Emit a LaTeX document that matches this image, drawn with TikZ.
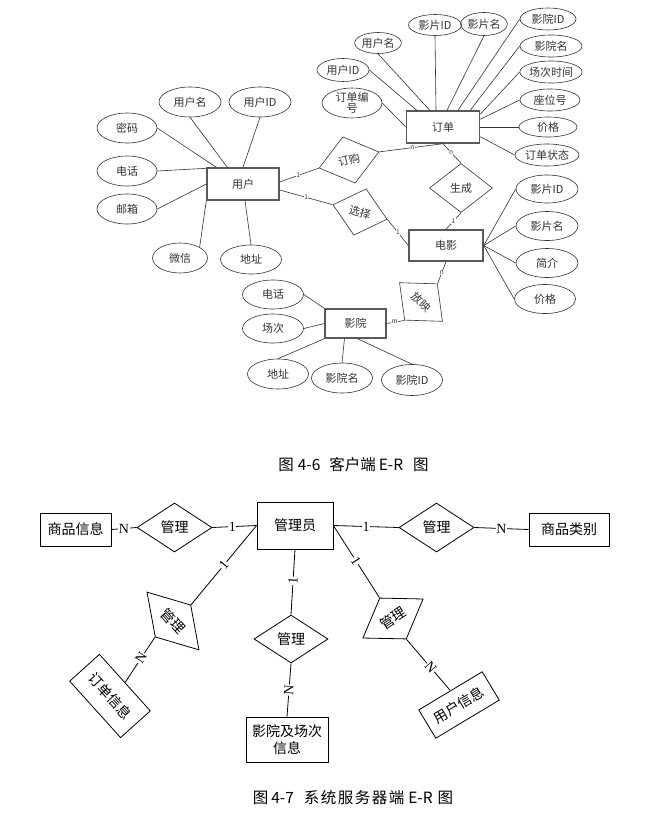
\documentclass[tikz,border=0pt]{standalone}
\usepackage{fontspec}
\setmainfont{Noto Sans CJK SC}
\newfontfamily\lserif{Liberation Serif}
\usetikzlibrary{shapes.geometric}
\begin{document}
\begin{tikzpicture}[x=1pt,y=-1pt,
  sz/.style 2 args={minimum width=#1pt, minimum height=#2pt},
  attr/.style={ellipse, draw=black!80, line width=0.6pt, inner sep=0pt, font=\fontsize{11}{11}\selectfont, text=black!80, align=center},
  ent/.style={rectangle, draw=black!65, line width=1.4pt, inner sep=0pt, font=\fontsize{11}{12}\selectfont, text=black!80},
  rel/.style={diamond, draw=black!80, line width=0.6pt, inner sep=0pt, font=\fontsize{11}{12}\selectfont, text=black!80},
  ln/.style={draw=black!80, line width=0.6pt},
  lbl/.style={font=\fontsize{6.5}{7}\selectfont, inner sep=0.3pt, fill=white, text=black!80},
  bent/.style={rectangle, draw, line width=0.8pt, inner sep=0pt, font=\fontsize{14}{17}\selectfont, align=center},
  brel/.style={diamond, draw, line width=0.8pt, inner sep=0pt, font=\fontsize{14}{17}\selectfont},
  bln/.style={draw, line width=0.8pt},
  blbl/.style={font=\lserif\fontsize{14}{14}\selectfont, inner sep=0.6pt, fill=white},
  figcap/.style={font=\fontsize{15.5}{18}\selectfont, inner sep=0pt}
]
\useasboundingbox[fill=white] (0,0) rectangle (645,827);

% ===================== Figure 4-6 =====================
% entities
\node[ent, sz={72}{32}] (user) at (243,184) {用户};
\node[ent, sz={73}{32}] (order) at (443,127) {订单};
\node[ent, sz={74}{31}] (movie) at (446,245.5) {电影};
\node[ent, sz={61}{29}] (cinema) at (355.5,323.5) {影院};

% user attributes
\node[attr, sz={62}{30}] (uname) at (190,102) {用户名};
\node[attr, sz={62}{30}] (uid) at (260,102) {用户ID};
\node[attr, sz={60}{30}] (upwd) at (127,128) {密码};
\node[attr, sz={60}{30}] (utel) at (127,171) {电话};
\node[attr, sz={60}{30}] (umail) at (127,209) {邮箱};
\node[attr, sz={55}{30}] (uwx) at (180,258) {微信};
\node[attr, sz={61}{29}] (uaddr) at (251,259.5) {地址};

\draw[ln] (upwd.east) -- ([xshift=10pt]user.north west);
\draw[ln] (uname.south) -- ([xshift=21pt]user.north west);
\draw[ln] (uid.south) -- (user.north);
\draw[ln] (utel.east) -- ([yshift=-1pt]user.north west);
\draw[ln] (umail.east) -- (user.west);
\draw[ln] (uwx.north east) -- (user.south west);
\draw[ln] (uaddr.north) -- ([xshift=2pt]user.south);

% order attributes
\node[attr, sz={60}{28}] (ono) at (352,103) {订单编\\号};
\node[attr, sz={52}{23}] (ouid) at (343,70) {用户ID};
\node[attr, sz={46}{21}] (ouname) at (378,43) {用户名};
\node[attr, sz={53}{21}] (ofid) at (435,25) {影片ID};
\node[attr, sz={42}{23}] (ofname) at (484,24) {影片名};
\node[attr, sz={56}{22}] (ocid) at (548,19) {影院ID};
\node[attr, sz={62}{22}] (ocname) at (551,46) {影院名};
\node[attr, sz={62}{22}] (otime) at (551,72) {场次时间};
\node[attr, sz={60}{22}] (oseat) at (550,100) {座位号};
\node[attr, sz={58}{20}] (oprice) at (548,127) {价格};
\node[attr, sz={64}{22}] (ostate) at (547,155) {订单状态};

\draw[ln] (ono.east) -- (order.west);
\draw[ln] (ouid.east) -- ([xshift=11pt]order.north west);
\draw[ln] (ouname.south) -- ([xshift=24pt]order.north west);
\draw[ln] (ofid.south) -- ([xshift=-7pt]order.north);
\draw[ln] (ofname.south) -- ([xshift=4pt]order.north);
\draw[ln] (ocid.west) -- ([xshift=15pt]order.north);
\draw[ln] (ocname.west) -- ([xshift=-10pt]order.north east);
\draw[ln] (otime.west) -- ([yshift=-4pt]order.north east);
\draw[ln] (oseat.west) -- ([yshift=-9pt]order.north east);
\draw[ln] (oprice.west) -- (order.east);
\draw[ln] (ostate.west) -- ([yshift=7pt]order.south east);

% movie attributes
\node[attr, sz={62}{28}] (mfid) at (547,189) {影片ID};
\node[attr, sz={62}{29}] (mfname) at (547,226) {影片名};
\node[attr, sz={62}{29}] (mintro) at (547,263) {简介};
\node[attr, sz={61}{29}] (mprice) at (545,299) {价格};
\draw[ln] (mfid.west) -- (movie.east);
\draw[ln] (mfname.west) -- (movie.east);
\draw[ln] (mintro.west) -- (movie.east);
\draw[ln] (mprice.west) -- (movie.east);

% cinema attributes
\node[attr, sz={61}{29}] (ctel) at (273,294.5) {电话};
\node[attr, sz={61}{29}] (csess) at (273,328.5) {场次};
\node[attr, sz={61}{30}] (caddr) at (278,374) {地址};
\node[attr, sz={61}{30}] (cname) at (342,378) {影院名};
\node[attr, sz={61}{31}] (cid) at (412,380) {影院ID};
\draw[ln] (ctel.east) -- (cinema.north west);
\draw[ln] (csess.east) -- (cinema.west);
\draw[ln] (caddr.north) -- (cinema.south west);
\draw[ln] (cname.north) -- ([xshift=-11pt]cinema.south);
\draw[ln] (cid.north) -- ([xshift=2pt]cinema.south);

% relationships
\node[rel, sz={62}{48}, rotate=15] (order_rel) at (349,160) {订购};
\node[rel, sz={56}{48}, rotate=-15] (choose) at (360,212) {选择};
\node[rel, sz={63}{49}] (gen) at (461,188) {生成};
\node[rel, sz={58}{49}, rotate=-42] (show) at (421,302) {放映};

\draw[ln] ([yshift=2pt]user.east) -- node[lbl, pos=.47] {1} (order_rel.west);
\draw[ln] (order_rel.east) -- node[lbl, pos=.52] {n} (order.south);
\draw[ln] ([yshift=-6pt]user.east) -- node[lbl, pos=.5] {1} (choose.west);
\draw[ln] (choose.east) -- node[lbl, pos=.5] {1} (movie.west);
\draw[ln] (order.south) -- node[lbl, pos=.45] {n} (gen.north);
\draw[ln] (gen.south) -- node[lbl, pos=.5] {1} (movie.north);
\draw[ln] (movie.south) -- node[lbl, pos=.5] {n} (show.north);
\draw[ln] (cinema.east) -- node[lbl, pos=.45] {m} (show.south);

\node[figcap] (cap1) at (353.5,465) {图\hspace{4pt}4-6\hspace{9pt}客户端\hspace{3pt}E-R\hspace{10pt}图};

% ===================== Figure 4-7 =====================
\node[bent, sz={71}{33}] (goods) at (75.5,529.5) {商品信息};
\node[bent, sz={76}{47}] (admin) at (295,525.5) {管理员};
\node[bent, sz={80}{33}] (cat) at (569,529.5) {商品类别};
\node[bent, sz={76}{40}, rotate=-48] (oinfo) at (110,696) {订单信息};
\node[bent, sz={82}{45}] (cinfo) at (287,739.5) {影院及场次\\信息};
\node[bent, sz={74}{33}, rotate=31] (uinfo) at (459,705) {用户信息};

\node[brel, sz={75}{49}] (m1) at (174.5,527.5) {管理};
\node[brel, sz={75}{49}] (m2) at (436.5,527.5) {管理};
\node[brel, sz={78}{48}, rotate=-48] (m3) at (173,621) {管理};
\node[brel, sz={74}{48}] (m4) at (291,639) {管理};
\node[brel, sz={72}{49}, rotate=33] (m5) at (393,618.5) {管理};

\draw[bln] (goods.east) -- node[blbl, pos=.5] {N} (m1.west);
\draw[bln] (m1.east) -- node[blbl, pos=.45] {1} (admin.west);
\draw[bln] (admin.east) -- node[blbl, pos=.5] {1} (m2.west);
\draw[bln] (m2.east) -- node[blbl, pos=.5] {N} (cat.west);
\draw[bln] (admin.west) -- node[blbl, pos=.5, sloped] {1} (m3.north);
\draw[bln] (m3.south) -- node[blbl, pos=.46, sloped] {N} (oinfo.north);
\draw[bln] (admin.south) -- node[blbl, pos=.48, sloped] {1} (m4.north);
\draw[bln] (m4.south) -- node[blbl, pos=.5, sloped] {N} (cinfo.north);
\draw[bln] (admin.east) -- node[blbl, pos=.49, sloped] {1} (m5.north);
\draw[bln] (m5.south) -- node[blbl, pos=.55, sloped] {N} (uinfo.north);

\node[figcap] (cap2) at (353,798) {图\hspace{3pt}4-7\hspace{10pt}系\hspace{1.5pt}统\hspace{1.5pt}服\hspace{1.5pt}务\hspace{1.5pt}器\hspace{1.5pt}端\hspace{4pt}E-R\hspace{5pt}图};
\end{tikzpicture}
\end{document}
